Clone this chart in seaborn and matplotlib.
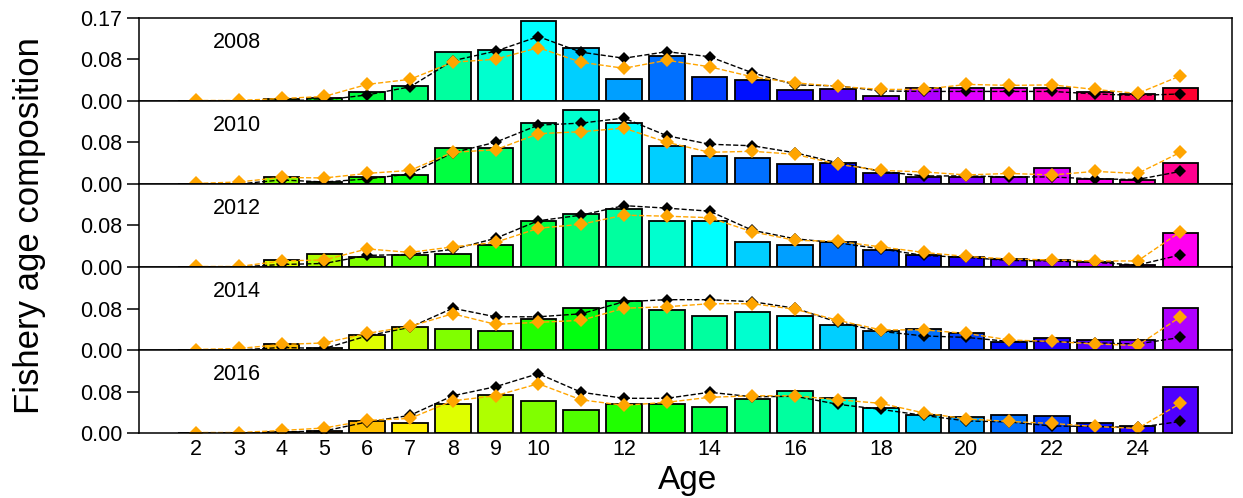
import colorsys
import numpy as np
import pandas as pd
import matplotlib
matplotlib.use('Agg')
import matplotlib.pyplot as plt
import seaborn as sns

sns.set_theme(style='ticks', rc={'axes.edgecolor': 'black', 'xtick.color': 'black',
                                 'ytick.color': 'black', 'text.color': 'black',
                                 'axes.labelcolor': 'black'})
plt.rcParams['font.family'] = ['Liberation Sans', 'DejaVu Sans']

# Ages 2..25 (25 is the plus group)
ages = list(range(2, 26))
years = [2008, 2010, 2012, 2014, 2016]

# bars = observed proportions, black/orange = two model fits
bars_2008 = [0, 0, 0.003, 0.005, 0.018, 0.029, 0.098, 0.102, 0.158, 0.105, 0.044, 0.089,
             0.048, 0.041, 0.021, 0.024, 0.009, 0.025, 0.025, 0.025, 0.025, 0.018, 0.014, 0.025]
black_2008 = [0, 0, 0.001, 0.002, 0.012, 0.028, 0.080, 0.099, 0.128, 0.097, 0.085, 0.098,
              0.088, 0.056, 0.032, 0.030, 0.020, 0.019, 0.019, 0.019, 0.019, 0.014, 0.011, 0.014]
orange_2008 = [0.001, 0.001, 0.005, 0.009, 0.033, 0.043, 0.077, 0.083, 0.106, 0.077, 0.065, 0.081,
               0.068, 0.048, 0.036, 0.029, 0.023, 0.023, 0.033, 0.031, 0.032, 0.023, 0.015, 0.050]

bars_2010 = [0, 0, 0.014, 0.003, 0.014, 0.018, 0.072, 0.071, 0.122, 0.147, 0.122, 0.075,
             0.056, 0.052, 0.040, 0.041, 0.021, 0.014, 0.014, 0.014, 0.032, 0.010, 0.007, 0.041]
black_2010 = [0, 0, 0.008, 0.004, 0.010, 0.020, 0.062, 0.083, 0.117, 0.121, 0.131, 0.096,
              0.079, 0.076, 0.062, 0.042, 0.025, 0.016, 0.016, 0.014, 0.014, 0.010, 0.009, 0.025]
orange_2010 = [0.001, 0.004, 0.013, 0.012, 0.021, 0.027, 0.063, 0.068, 0.100, 0.104, 0.111, 0.083,
               0.063, 0.065, 0.059, 0.039, 0.027, 0.024, 0.018, 0.021, 0.018, 0.025, 0.021, 0.063]

bars_2012 = [0, 0, 0.014, 0.026, 0.019, 0.023, 0.026, 0.044, 0.091, 0.106, 0.115, 0.091,
             0.091, 0.049, 0.044, 0.049, 0.033, 0.023, 0.019, 0.015, 0.014, 0.010, 0.003, 0.068]
black_2012 = [0, 0, 0.005, 0.007, 0.023, 0.025, 0.035, 0.057, 0.092, 0.103, 0.122, 0.117,
              0.111, 0.073, 0.056, 0.048, 0.036, 0.023, 0.019, 0.013, 0.012, 0.009, 0.004, 0.024]
orange_2012 = [0.001, 0.001, 0.012, 0.014, 0.036, 0.029, 0.040, 0.049, 0.077, 0.085, 0.103, 0.101,
               0.098, 0.070, 0.053, 0.051, 0.040, 0.029, 0.021, 0.016, 0.014, 0.012, 0.012, 0.070]

bars_2014 = [0, 0, 0.011, 0.004, 0.030, 0.045, 0.041, 0.038, 0.061, 0.084, 0.098, 0.079,
             0.068, 0.076, 0.068, 0.049, 0.038, 0.042, 0.033, 0.016, 0.023, 0.019, 0.019, 0.083]
black_2014 = [0, 0, 0.005, 0.003, 0.028, 0.045, 0.083, 0.066, 0.066, 0.072, 0.096, 0.100,
              0.100, 0.096, 0.083, 0.055, 0.037, 0.028, 0.025, 0.017, 0.017, 0.014, 0.012, 0.025]
orange_2014 = [0.001, 0.003, 0.011, 0.014, 0.033, 0.047, 0.072, 0.051, 0.055, 0.059, 0.083, 0.086,
               0.092, 0.092, 0.081, 0.059, 0.040, 0.040, 0.033, 0.020, 0.017, 0.012, 0.009, 0.066]

bars_2016 = [0, 0, 0.002, 0.004, 0.023, 0.019, 0.057, 0.076, 0.064, 0.045, 0.057, 0.057,
             0.052, 0.068, 0.084, 0.069, 0.050, 0.035, 0.031, 0.035, 0.034, 0.019, 0.014, 0.091]
black_2016 = [0, 0, 0.002, 0.004, 0.022, 0.035, 0.074, 0.092, 0.118, 0.081, 0.069, 0.069,
              0.081, 0.072, 0.073, 0.057, 0.047, 0.035, 0.024, 0.022, 0.014, 0.013, 0.011, 0.023]
orange_2016 = [0.001, 0.001, 0.005, 0.010, 0.025, 0.029, 0.064, 0.074, 0.098, 0.066, 0.055, 0.061,
               0.071, 0.074, 0.074, 0.066, 0.059, 0.040, 0.028, 0.023, 0.019, 0.013, 0.009, 0.059]

bars = [bars_2008, bars_2010, bars_2012, bars_2014, bars_2016]
blacks = [black_2008, black_2010, black_2012, black_2014, black_2016]
oranges = [orange_2008, orange_2010, orange_2012, orange_2014, orange_2016]

xtick_ages = [2, 3, 4, 5, 6, 7, 8, 9, 10, 12, 14, 16, 18, 20, 22, 24]
ymax = 0.165


def cohort_color(cohort):
    # rainbow over 32 cohorts, newest (2014) = red
    h = (2014 - cohort) / 32.0
    return colorsys.hsv_to_rgb(h % 1.0, 1.0, 1.0)


fig, axes = plt.subplots(5, 1, sharex=True, figsize=(12.43, 4.98), dpi=100)
fig.subplots_adjust(left=0.1118, right=0.991, top=0.9639, bottom=0.1305, hspace=0)

for i, (ax, yr) in enumerate(zip(axes, years)):
    df = pd.DataFrame({'age': ages, 'prop': bars[i]})
    pal = {a: cohort_color(yr - a) for a in ages}
    sns.barplot(data=df, x='age', y='prop', hue='age', palette=pal, native_scale=True,
                width=0.83, saturation=1, edgecolor='black', linewidth=1.3,
                errorbar=None, legend=False, ax=ax)
    sns.lineplot(x=ages, y=blacks[i], color='black', marker='D', markersize=6.5,
                 markeredgecolor='black', markeredgewidth=0, linestyle='--',
                 dashes=(4, 3), linewidth=1, ax=ax)
    sns.lineplot(x=ages, y=oranges[i], color='#FFA500', marker='D', markersize=7.5,
                 markeredgecolor='#FFA500', markeredgewidth=0, linestyle='--',
                 dashes=(4, 3), linewidth=1, ax=ax)
    ax.set_ylim(0, ymax)
    ax.set_xlim(0.67, 26.2)
    if i == 0:
        ax.set_yticks([0, ymax / 2, ymax])
        ax.set_yticklabels(['0.00', '0.08', '0.17'])
    else:
        ax.set_yticks([0, ymax / 2])
        ax.set_yticklabels(['0.00', '0.08'])
    ax.tick_params(axis='y', length=9, width=1.1, labelsize=15.5, pad=3)
    ax.tick_params(axis='x', length=0, labelsize=15.5, pad=4)
    ax.set_xlabel('')
    ax.set_ylabel('')
    for s in ax.spines.values():
        s.set_linewidth(1.1)
    ax.text(0.068, 0.70, str(yr), transform=ax.transAxes, fontsize=15.5,
            ha='left', va='center')

axes[-1].set_xticks(xtick_ages)
axes[-1].set_xticklabels([str(a) for a in xtick_ages])

fig.text(0.553, 0.004, 'Age', fontsize=24, ha='center', va='bottom')
fig.text(0.024, 0.548, 'Fishery age composition', fontsize=25, rotation=90,
         ha='center', va='center')

plt.savefig('out.png', dpi=100)
